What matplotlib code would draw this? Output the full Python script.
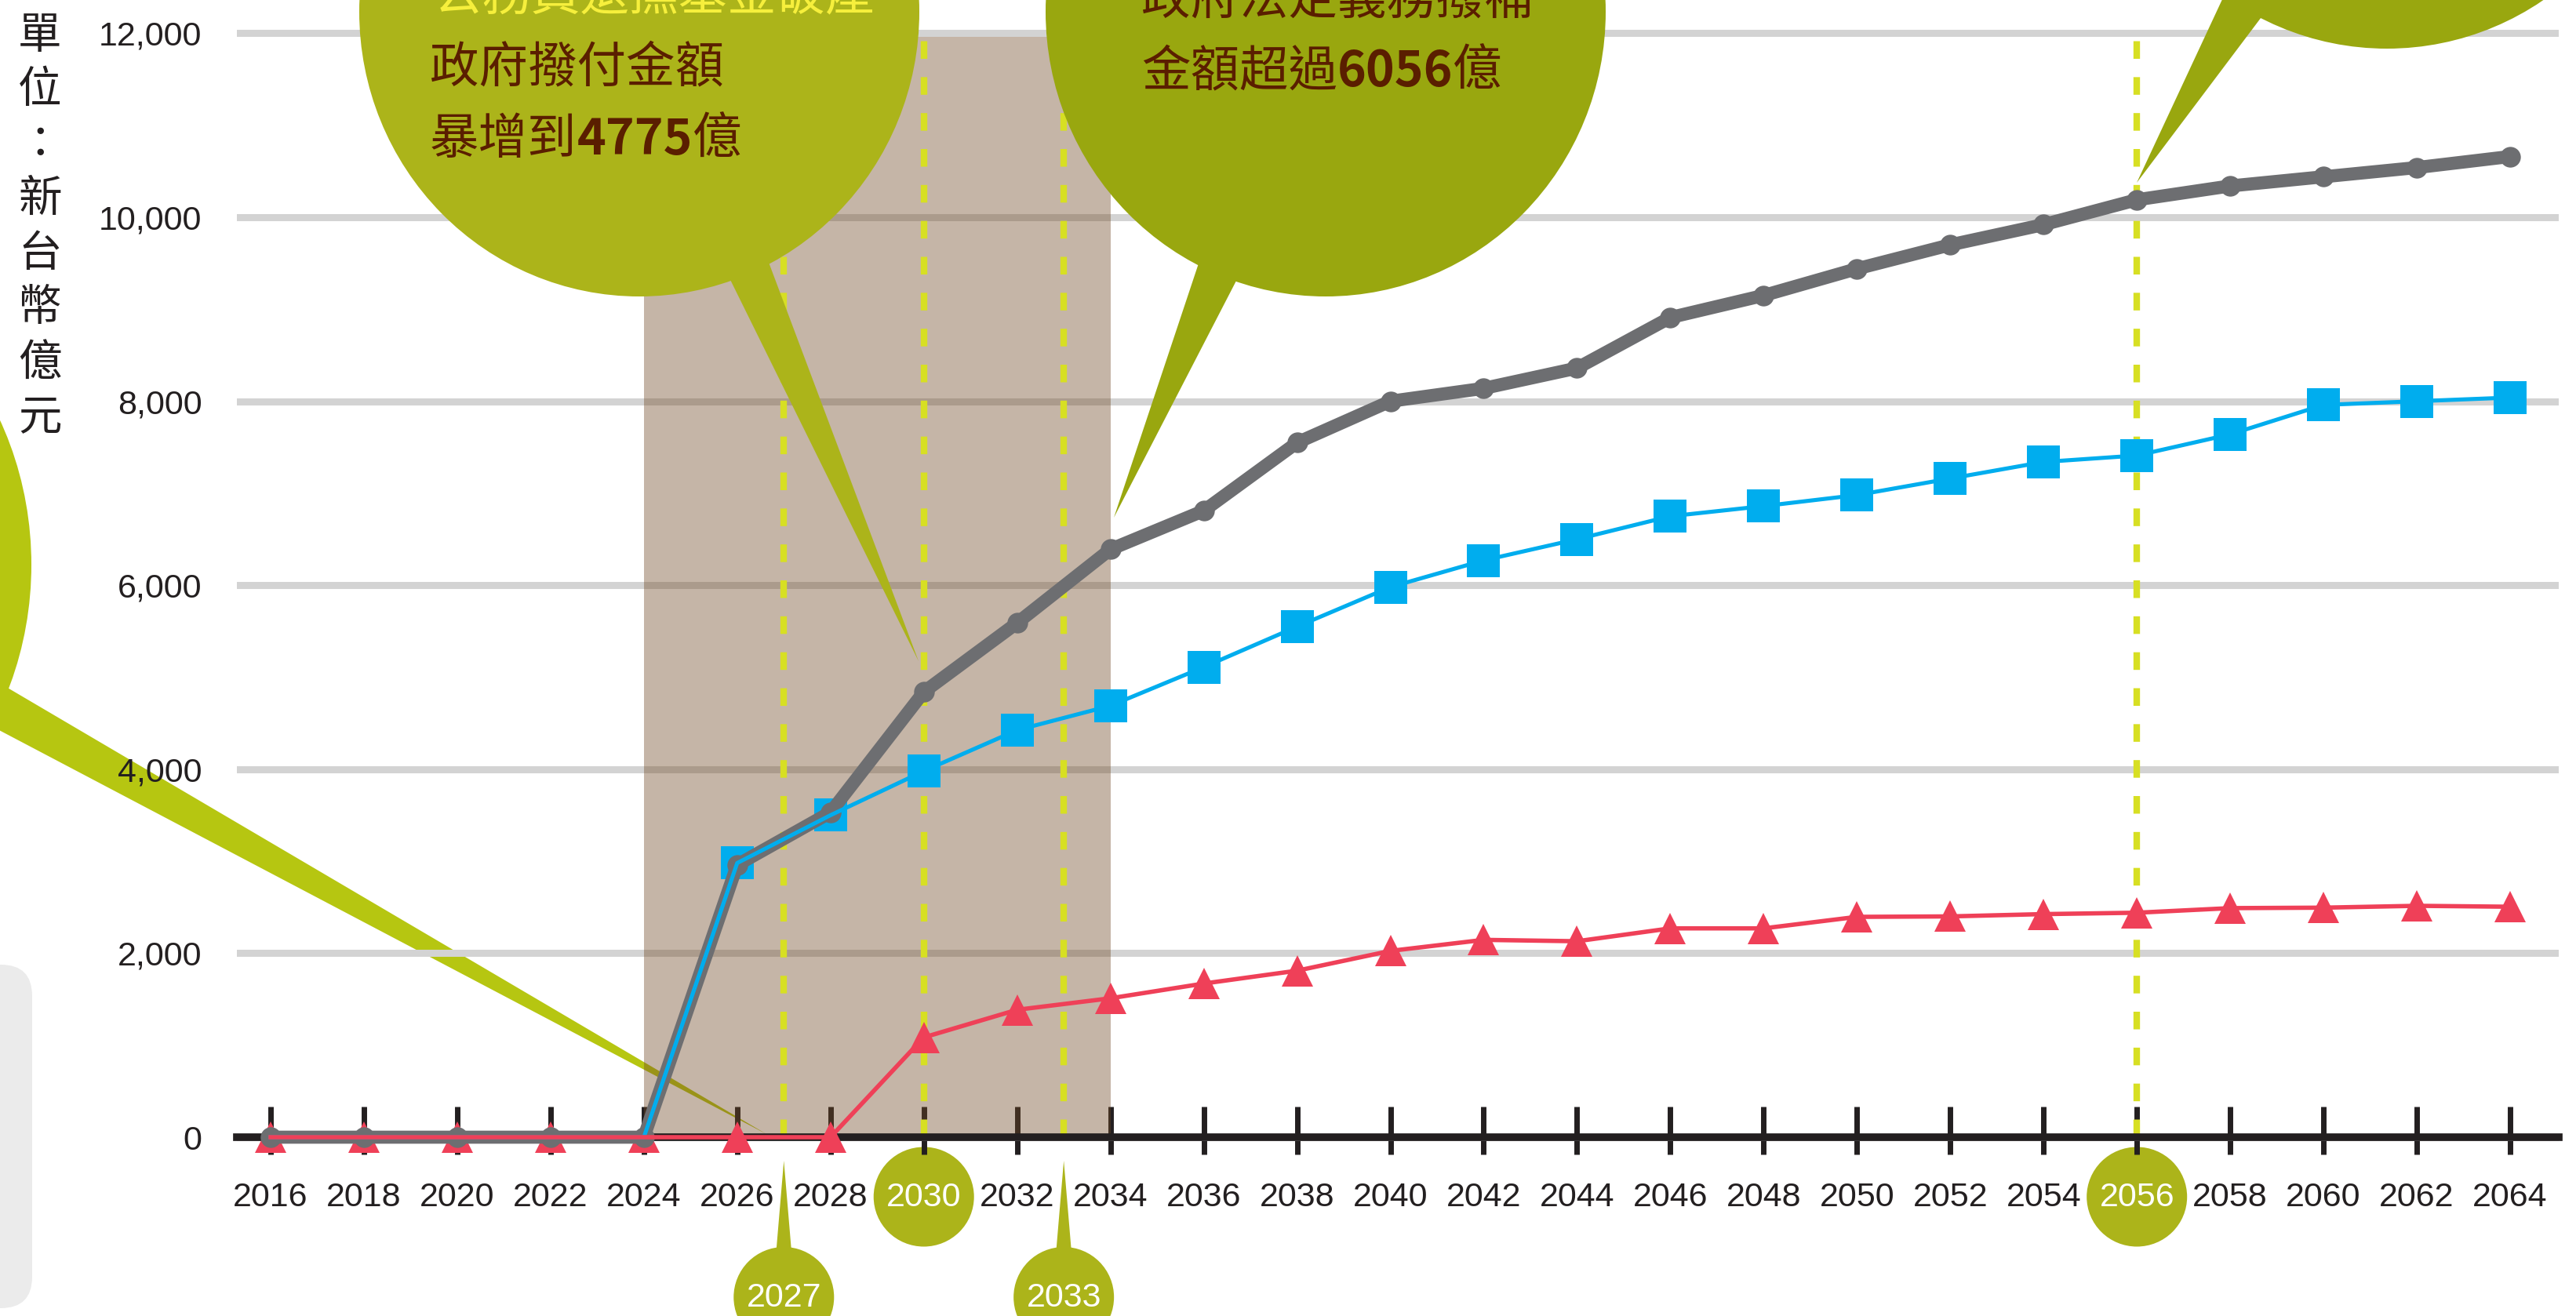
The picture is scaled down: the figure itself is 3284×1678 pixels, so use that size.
import matplotlib
matplotlib.use("Agg")
import matplotlib.pyplot as plt
import matplotlib.transforms as mtransforms
from matplotlib.patches import Ellipse, Polygon, FancyBboxPatch
from matplotlib.ticker import FixedLocator

plt.rcParams['font.family'] = ['Liberation Sans Narrow', 'Liberation Sans', 'DejaVu Sans']
CJK = ['Noto Sans CJK TC', 'DejaVu Sans']

# ---- data ----
years = list(range(2016, 2065, 2))
series_gray = [0, 0, 0, 0, 0, 2960, 3530, 4840, 5590, 6390, 6810, 7550, 8000,
               8140, 8360, 8910, 9150, 9440, 9700, 9920, 10190, 10340, 10440,
               10540, 10660]
series_blue = [0, 0, 0, 0, 0, 2980, 3500, 3980, 4425, 4690, 5110, 5550, 5980,
               6270, 6500, 6750, 6860, 6980, 7160, 7340, 7410, 7640, 7960,
               8000, 8040]
series_red = [0, 0, 0, 0, 0, 0, 0, 1085, 1385, 1510, 1670, 1810, 2025, 2145,
              2130, 2270, 2270, 2395, 2400, 2425, 2440, 2490, 2495, 2515, 2505]
blue_first_marker = 5   # squares only drawn from 2026 on

yticks = [0, 2000, 4000, 6000, 8000, 10000, 12000]
ytick_labels = ['0', '2,000', '4,000', '6,000', '8,000', '10,000', '12,000']
shade_years = (2024, 2034)
marked_years = [2027, 2030, 2033, 2056]
circled_ticks = [2030, 2056]
pinned_years = [2027, 2033]
unit_label = '單位：新台幣億元'

bubble1_lines = ['公務員退撫基金破產', '政府撥付金額']
bubble1_last = [('暴增到', 'normal'), ('4775', 'bold'), ('億', 'normal')]
bubble2_lines = ['政府法定義務撥補']
bubble2_last = [('金額超過', 'normal'), ('6056', 'bold'), ('億', 'normal')]

# ---- colours ----
c_axis = '#231f20'
c_gray = '#6d6e71'
c_blue = '#00adee'
c_red = '#ef4058'
c_olive = '#acb41a'
c_olive2 = '#99a70f'
c_lime = '#b6c611'
c_brown = '#5a1e00'
c_yellow = '#f6ef3c'

W, H = 3284, 1678
fig = plt.figure(figsize=(W / 100, H / 100), dpi=100)
x0, x1 = 302, 3262
ax = fig.add_axes([x0 / W, 0, (x1 - x0) / W, 1])
ax.patch.set_visible(False)

px_year = 59.48    # pixels per year
px_val = 0.1173    # pixels per unit
ax.set_xlim(2016 - (345 - x0) / px_year, 2016 + (x1 - 345) / px_year)
ax.set_ylim(-(H - 1450) / px_val, 1450 / px_val)

# pixel space (y down) and year/pixel blend for decorations
pix = mtransforms.Affine2D().scale(1 / W, -1 / H).translate(0, 1) + fig.transFigure
xpix = mtransforms.blended_transform_factory(ax.transData, pix)

for s in ['left', 'right', 'top']:
    ax.spines[s].set_visible(False)
ax.spines['bottom'].set_position(('data', 0))
ax.spines['bottom'].set_color(c_axis)
ax.spines['bottom'].set_linewidth(7)

ax.set_xticks(years, [str(y) for y in years])
ax.xaxis.set_minor_locator(FixedLocator(years))
ax.xaxis.remove_overlapping_locs = False
ax.tick_params(axis='x', which='major', direction='in', length=28, width=5,
               color=c_axis, pad=41, labelsize=31, labelcolor=c_axis)
ax.tick_params(axis='x', which='minor', direction='out', length=16, width=5,
               color=c_axis)
for lab in ax.get_xticklabels():
    if int(lab.get_text()) in circled_ticks:
        lab.set_color('white')

ax.set_yticks(yticks, ytick_labels)
ax.tick_params(axis='y', length=0, pad=32, labelsize=31, labelcolor=c_axis)
ax.grid(axis='y', color='#d3d3d3', lw=6.5)
ax.grid(axis='x', visible=False)
ax.set_axisbelow(True)

# shaded period
ax.fill_between(shade_years, 0, 11960, color='#704823', alpha=0.4, lw=0,
                zorder=0.6)
ax.vlines(marked_years, 0, 12000, colors='#d7df23', lw=6,
          linestyles=(0, (2.7, 2.8)), zorder=2)

# series
ax.plot(years, series_red, ls='none', marker='^', ms=29, mew=0, color=c_red,
        zorder=3, clip_on=False)
ax.plot(years, series_blue, ls='none', marker='s', ms=30, mew=0, color=c_blue,
        markevery=slice(blue_first_marker, None), zorder=3, clip_on=False)
ax.plot(years, series_gray, color=c_gray, lw=12, marker='o', ms=19, mew=0,
        solid_joinstyle='round', zorder=4, clip_on=False)
ax.plot(years, series_blue, color=c_blue, lw=3.7, zorder=5, clip_on=False)
ax.plot(years, series_red, color=c_red, lw=4, zorder=6, clip_on=False)

# unit label, stacked characters
for i, ch in enumerate(unit_label):
    ax.text(51, 46 + 69.5 * i, ch, transform=pix, ha='center', va='center',
            fontsize=40, family=CJK, color=c_axis)

# grey box bottom-left
ax.add_patch(FancyBboxPatch((-100, 1230), 141, 438,
                            boxstyle='round,pad=0,rounding_size=40',
                            transform=pix, fc='#ebebeb', ec='none',
                            clip_on=False, zorder=0.1))

# left bubble (under the shaded period)
ax.add_patch(Ellipse((-316, 720), 712, 800, transform=pix, fc=c_lime,
                     ec='none', clip_on=False, zorder=0.2))
ax.add_patch(Polygon([(-60, 836), (-60, 900), (977, 1446)], transform=pix,
                     fc=c_lime, ec='none', clip_on=False, zorder=0.2))

# speech bubbles on top
bubbles = [
    ((815, 15), c_olive, [(903, 300), (967, 300), (1171, 843)]),
    ((1690, 15), c_olive2, [(1540, 300), (1606, 300), (1420, 660)]),
    ((3043, -301), c_olive2, [(2856, -50), (2937, -50), (2724, 233)]),
]
for (cx, cy), col, tail in bubbles:
    ax.add_patch(Ellipse((cx, cy), 714, 726, transform=pix, fc=col, ec='none',
                         clip_on=False, zorder=10))
    ax.add_patch(Polygon(tail, transform=pix, fc=col, ec='none',
                         clip_on=False, zorder=10))


def rich_line(x, y, parts, color):
    t = ax.text(x, y, parts[0][0], transform=pix, va='baseline', ha='left',
                fontsize=45, family=CJK, weight=parts[0][1], color=color,
                zorder=11)
    for s, w in parts[1:]:
        t = ax.annotate(s, xy=(1, 0), xycoords=t, va='bottom', ha='left',
                        fontsize=45, family=CJK, weight=w, color=color,
                        zorder=11)


rich_line(553, 12, [(bubble1_lines[0], 'normal')], c_yellow)
rich_line(548, 104, [(bubble1_lines[1], 'normal')], c_brown)
rich_line(548, 196, bubble1_last, c_brown)
rich_line(1455, 19, [(bubble2_lines[0], 'normal')], c_brown)
rich_line(1455, 109, bubble2_last, c_brown)

# circled tick labels and pins under the axis
for yr in circled_ticks:
    ax.add_patch(Ellipse((yr, 1526), 128 / px_year, 127, transform=xpix,
                         fc=c_olive, ec='none', clip_on=False, zorder=0.3))
for yr in pinned_years:
    ax.add_patch(Polygon([(yr, 1480), (yr - 0.17, 1600), (yr + 0.17, 1600)],
                         transform=xpix, fc=c_olive, ec='none',
                         clip_on=False, zorder=0.3))
    ax.add_patch(Ellipse((yr, 1654), 128 / px_year, 128, transform=xpix,
                         fc=c_olive, ec='none', clip_on=False, zorder=0.3))
    ax.text(yr, 1655, str(yr), transform=xpix, ha='center', va='center',
            fontsize=31, color='white', zorder=1)

fig.savefig('out.png', dpi=100)
